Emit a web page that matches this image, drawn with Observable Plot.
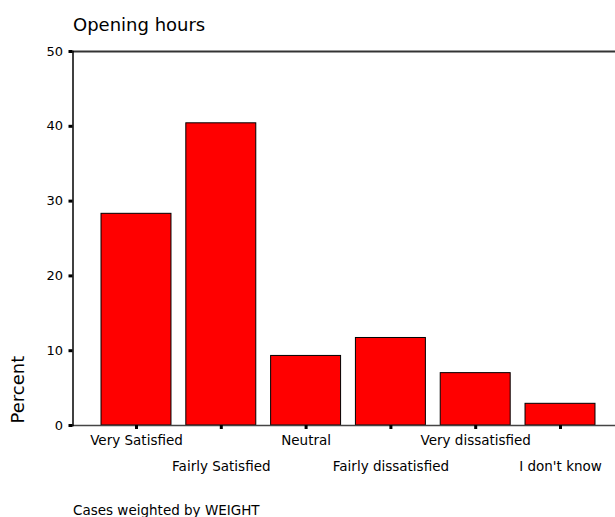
<!DOCTYPE html>
<html><head><meta charset="utf-8">
<script src="https://cdn.jsdelivr.net/npm/d3@7"></script>
<script src="https://cdn.jsdelivr.net/npm/@observablehq/plot@0.6"></script>
<style>html,body{margin:0;padding:0;background:#fff} svg{display:block}</style>
</head><body><div id="chart"></div>
<script>
const categories = ["Very Satisfied", "Fairly Satisfied", "Neutral", "Fairly dissatisfied", "Very dissatisfied", "I don't know"];
const percents = [28.3, 40.4, 9.3, 11.7, 7.0, 2.9];
const yTicks = [0, 10, 20, 30, 40, 50];
const title = "Opening hours";
const yLabel = "Percent";
const caption = "Cases weighted by WEIGHT";

const data = categories.map((c, i) => ({category: c, percent: percents[i]}));
const row1 = categories.filter((c, i) => i % 2 === 0);
const row2 = categories.filter((c, i) => i % 2 === 1);
const font = "DejaVu Sans";

const chart = Plot.plot({
  width: 615, height: 517,
  marginLeft: 72.5, marginRight: 0, marginTop: 51, marginBottom: 92,
  style: {fontFamily: font, background: "#fff", color: "#000"},
  x: {domain: categories, range: [81, 615], paddingInner: 0.175, paddingOuter: 0.236, round: false},
  y: {domain: [0, 50]},
  marks: [
    Plot.barY(data, {x: "category", y: "percent", fill: "#ff0000", stroke: "#000", strokeWidth: 1}),
    Plot.ruleY([50], {stroke: "#333", strokeWidth: 2}),
    Plot.ruleY([0], {stroke: "#444", strokeWidth: 1.5}),
    Plot.frame({anchor: "left", stroke: "#000", strokeWidth: 1.5}),
    Plot.axisY({ticks: yTicks, tickSize: 4, tickPadding: 6, strokeWidth: 3, fontSize: 13, label: null, fill: "#000"}),
    Plot.axisX({ticks: row1, tickSize: 4, tickPadding: 6.4, strokeWidth: 3, fontSize: 13.5, label: null, fill: "#000"}),
    Plot.axisX({ticks: row2, tickSize: 4, tickPadding: 32.4, strokeWidth: 3, fontSize: 13.5, label: null, fill: "#000"}),
    Plot.text([title], {frameAnchor: "top-left", dy: -21, lineAnchor: "bottom", textAnchor: "start", fontSize: 18, fill: "#000"}),
    Plot.text([yLabel], {frameAnchor: "bottom-left", rotate: -90, textAnchor: "start", lineAnchor: "middle", dx: -54.5, dy: -2, fontSize: 18, fill: "#000"}),
    Plot.text([caption], {frameAnchor: "bottom-left", dy: 89, lineAnchor: "bottom", textAnchor: "start", fontSize: 13.5, fill: "#000"})
  ]
});
document.getElementById("chart").appendChild(chart);
</script>
</body></html>
